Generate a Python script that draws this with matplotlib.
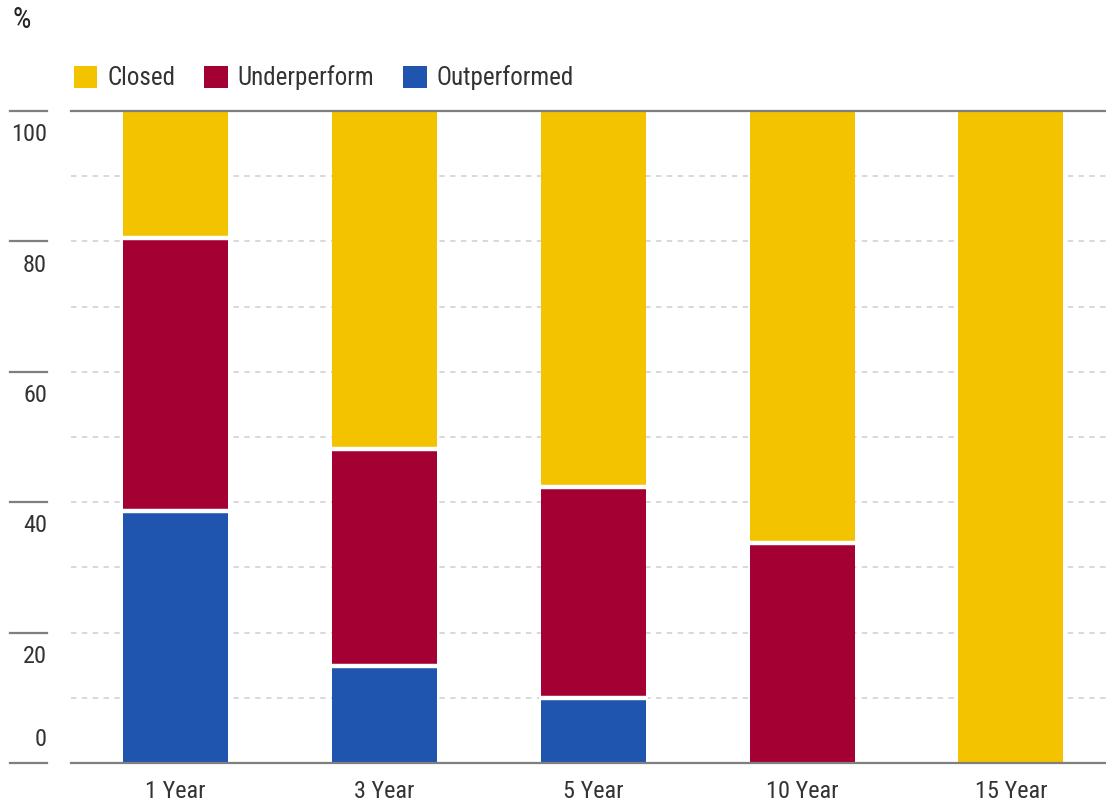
import matplotlib
matplotlib.use("Agg")
import matplotlib.pyplot as plt
from matplotlib.patches import Patch
import matplotlib.transforms as mtransforms
from matplotlib import font_manager

# ---- data ----
categories = ["1 Year", "3 Year", "5 Year", "10 Year", "15 Year"]
outperformed = [38.6, 14.9, 10.0, 0.0, 0.0]
underperform = [41.9, 33.3, 32.4, 33.7, 0.0]
closed = [19.5, 51.8, 57.6, 66.3, 100.0]
series_names = ["Closed", "Underperform", "Outperformed"]
y_ticks = [0, 20, 40, 60, 80, 100]
y_unit = "%"

# ---- style ----
names = {f.name for f in font_manager.fontManager.ttflist}
fams = [f for f in ["Liberation Sans Narrow", "Roboto Condensed", "Roboto", "DejaVu Sans"] if f in names]
plt.rcParams["font.family"] = fams
c_closed = "#F3C300"
c_under = "#A50034"
c_out = "#1F55AE"
txt = "#333333"
axis_gray = "#7f7f7f"

fig = plt.figure(figsize=(11.06, 8.07), dpi=100)
ax = fig.add_axes([71 / 1106, 1 - 763 / 807, 1 - 71 / 1106, (763 - 111) / 807])

x = list(range(len(categories)))
w = 0.503
bar_kw = dict(width=w, linewidth=0, zorder=3)
b_under = [o for o in outperformed]
b_closed = [o + u for o, u in zip(outperformed, underperform)]
ax.bar(x, outperformed, bottom=[0] * len(x), color=c_out, **bar_kw)
ax.bar(x, underperform, bottom=b_under, color=c_under, **bar_kw)
ax.bar(x, closed, bottom=b_closed, color=c_closed, **bar_kw)

# white separators between stacked segments
for i in x:
    segs = [outperformed[i], underperform[i], closed[i]]
    cum = 0
    prev_pos = False
    for s in segs:
        if s > 0 and prev_pos:
            ax.hlines(cum, i - w / 2 - 0.01, i + w / 2 + 0.01, color="white",
                      linewidth=3.2, zorder=4)
        if s > 0:
            prev_pos = True
        cum += s

ax.set_xlim(-0.5, 4.455)
ax.set_ylim(0, 100)

# grid
for v in range(10, 100, 10):
    ax.axhline(v, color="#d6d6d6", linewidth=1.3, linestyle=(0, (3, 3)), zorder=1)

for s in ["left", "right"]:
    ax.spines[s].set_visible(False)
for s in ["top", "bottom"]:
    ax.spines[s].set_color(axis_gray)
    ax.spines[s].set_linewidth(1.6)
    ax.spines[s].set_zorder(5)

ax.set_yticks([])
ax.set_xticks(x)
ax.set_xticklabels(categories, fontsize=17.5, color=txt)
ax.tick_params(axis="x", length=0, pad=12)

# left tick marks and labels
trans = mtransforms.blended_transform_factory(fig.transFigure, ax.transData)
for v in y_ticks:
    ax.plot([10 / 1106, 47 / 1106], [v, v], transform=trans, color=axis_gray,
            linewidth=1.6, clip_on=False)
    off = 17 if v == 0 else -17
    ax.annotate(str(v), xy=(47 / 1106, v), xycoords=trans, xytext=(0, off),
                textcoords="offset points", ha="right", va="center",
                fontsize=17.5, color=txt, annotation_clip=False)

fig.text(12 / 1106, 1 - 6 / 807, y_unit, ha="left", va="top", fontsize=21, color="#222222")

handles = [Patch(facecolor=c, edgecolor="none") for c in (c_closed, c_under, c_out)]
fig.legend(handles, series_names, loc="center left",
           bbox_to_anchor=(66 / 1106, 1 - 78 / 807), ncol=3, frameon=False,
           fontsize=18, handlelength=0.95, handleheight=0.95, handletextpad=0.4,
           columnspacing=1.15, labelcolor=txt, borderaxespad=0, borderpad=0.3)

fig.savefig("out.png", dpi=100)
